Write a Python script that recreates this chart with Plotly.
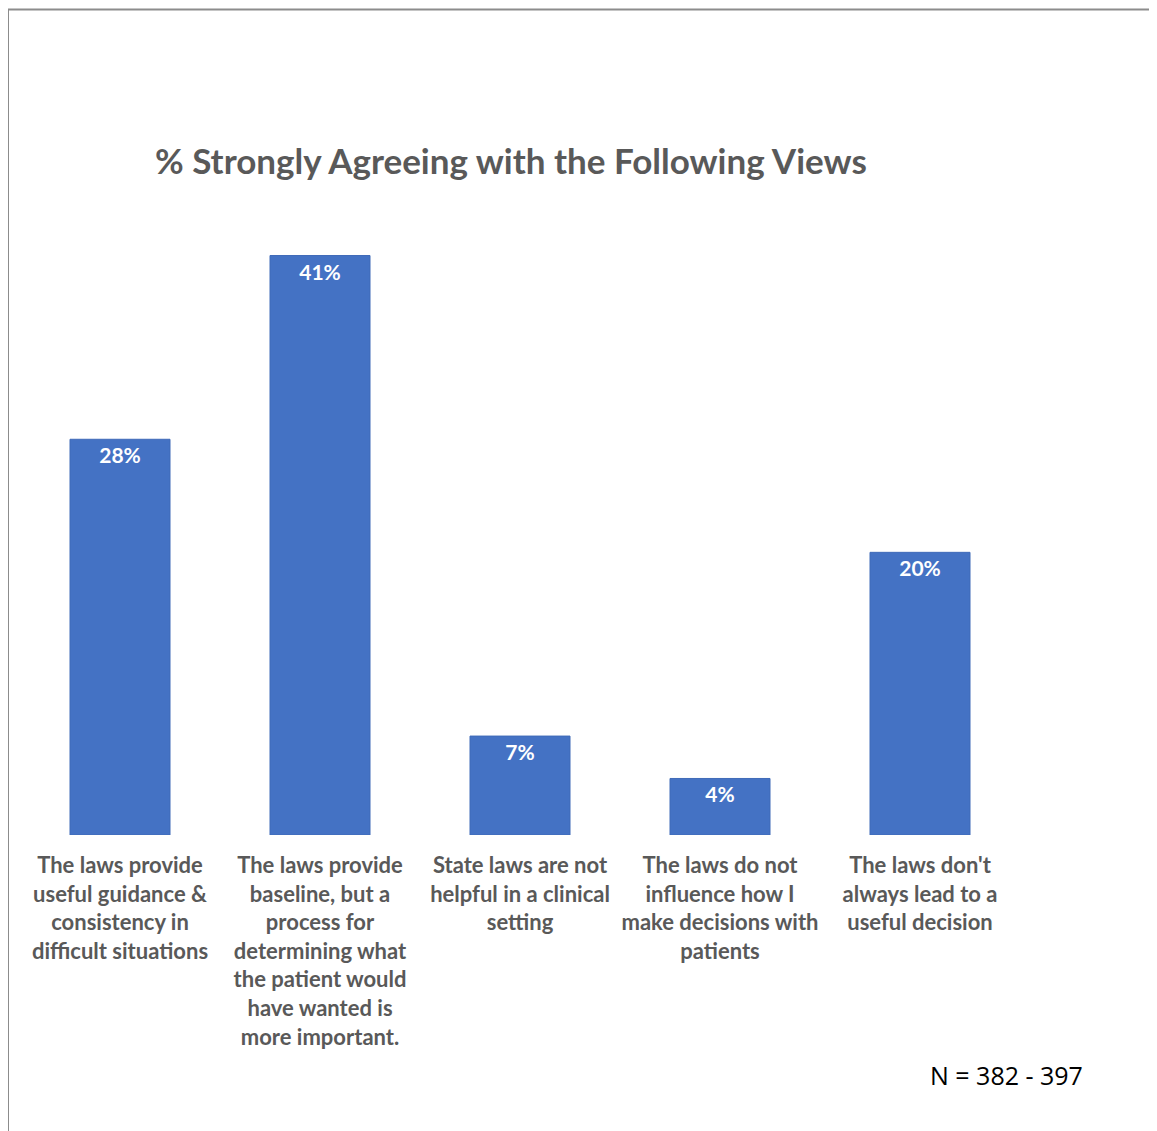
import plotly.graph_objects as go

categories = [
    "The laws provide<br>useful guidance &<br>consistency in<br>difficult situations",
    "The laws provide<br>baseline, but a<br>process for<br>determining what<br>the patient would<br>have wanted is<br>more important.",
    "State laws are not<br>helpful in a clinical<br>setting",
    "The laws do not<br>influence how I<br>make decisions with<br>patients",
    "The laws don't<br>always lead to a<br>useful decision",
]
values = [28, 41, 7, 4, 20]
value_labels = ["28%", "41%", "7%", "4%", "20%"]
title_text = "% Strongly Agreeing with the Following Views"
note_text = "N = 382 - 397"

OFF = 8  # default page body margin
W, H = 1157 - OFF, 1131 - OFF
L, R = 20 - OFF, 1020 - OFF
T, B = 199 - OFF, 835 - OFF
pw, ph = R - L, B - T

def px(x):
    return (x - OFF - L) / pw

def py(y):
    return (B - (y - OFF)) / ph

fig = go.Figure(
    go.Bar(
        x=list(range(len(values))),
        y=values,
        width=0.5,
        marker=dict(color="#4472C4", line=dict(color="#3F6AB8", width=1)),
        text=value_labels,
        textposition="inside",
        insidetextanchor="end",
        textfont=dict(family="Lato", size=21, color="white", weight="bold"),
        cliponaxis=False,
    )
)

fig.update_layout(
    width=W,
    height=H,
    margin=dict(l=L, r=W - R, t=T, b=H - B, pad=0),
    paper_bgcolor="white",
    plot_bgcolor="white",
    showlegend=False,
    title=dict(
        text="<b>" + title_text + "</b>",
        x=(155 - OFF) / W,
        xanchor="left",
        xref="container",
        y=1 - (162 - OFF) / H,
        yanchor="middle",
        yref="container",
        font=dict(family="Lato", size=35, color="#595959"),
    ),
    xaxis=dict(
        tickvals=list(range(len(values))),
        ticktext=categories,
        range=[-0.5, len(values) - 0.5],
        showline=False,
        showgrid=False,
        zeroline=False,
        ticks="",
        ticklabelstandoff=15,
        tickfont=dict(family="Lato", size=22, color="#595959", weight="bold"),
    ),
    yaxis=dict(
        range=[0, 45],
        visible=False,
        showgrid=False,
        zeroline=False,
    ),
    shapes=[
        dict(type="line", xref="paper", yref="paper",
             x0=px(7.5), x1=px(1157 + 5), y0=py(9.5), y1=py(9.5),
             line=dict(color="#8C8C8C", width=2)),
        dict(type="line", xref="paper", yref="paper",
             x0=px(8), x1=px(8), y0=py(9.5), y1=py(1131 + 5),
             line=dict(color="#8C8C8C", width=2)),
    ],
    annotations=[
        dict(text=note_text, xref="paper", yref="paper",
             x=px(928), y=py(1075), xanchor="left", yanchor="middle",
             showarrow=False,
             font=dict(family="Open Sans", size=25, color="#000000")),
    ],
)

fig.write_html("out.html")
